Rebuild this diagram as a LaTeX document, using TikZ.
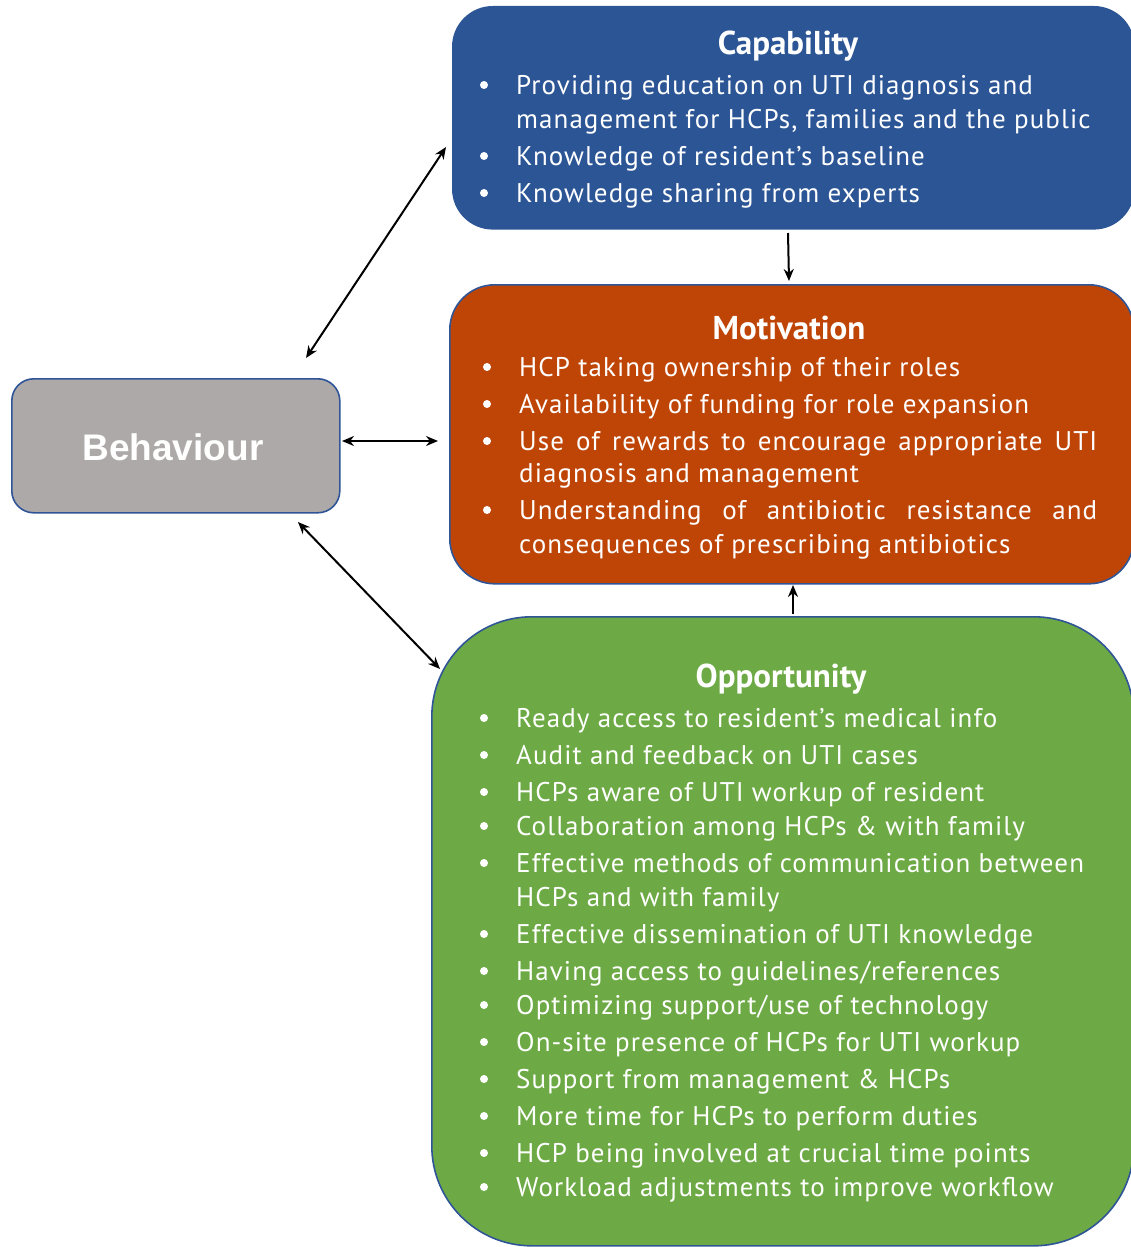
\documentclass[tikz,border=0pt]{standalone}
\usepackage{fontspec}
\setmainfont{PT Sans}[LetterSpace=4]
\newfontfamily\behavefont{Liberation Sans}
\newfontfamily\headfont{PT Sans}
\usetikzlibrary{arrows.meta}
\definecolor{capblue}{HTML}{2C5595}
\definecolor{motorange}{HTML}{BF4507}
\definecolor{oppgreen}{HTML}{6DAA45}
\definecolor{behgray}{HTML}{ADA9A9}
\definecolor{edgeblue}{HTML}{2F5597}
\tikzset{
  box/.style={draw=edgeblue, line width=1.6pt, inner sep=0pt, anchor=north west},
  ttl/.style={text=white, font=\headfont\fontsize{33}{36}\selectfont\bfseries, inner sep=0pt},
  itm/.style={text=white, font=\fontsize{27}{34}\selectfont, inner sep=0pt, anchor=base west},
  dot/.style={circle, fill=white, inner sep=0pt, minimum size=8pt},
  tip/.style={Stealth[length=12pt,width=10pt]},
  link/.style={line width=2pt, {Stealth[length=12pt,width=10pt]}-{Stealth[length=12pt,width=10pt]}},
  onelink/.style={line width=2pt, -{Stealth[length=12pt,width=10pt]}}
}
\begin{document}
\begin{tikzpicture}[x=1pt, y=-1pt]
\useasboundingbox (0,0) rectangle (1131,1247);
\begin{scope}
\clip (0,0) rectangle (1131,1247);
% boxes
\node[box, fill=capblue, draw=capblue, rounded corners=40pt, minimum width=681pt, minimum height=222pt] (cap) at (452,6) {};
\node[box, fill=motorange, rounded corners=45pt, minimum width=684pt, minimum height=299pt] (mot) at (449,284) {};
\node[box, fill=oppgreen, rounded corners=100pt, minimum width=702pt, minimum height=629pt] (opp) at (431,616) {};
\node[box, fill=behgray, rounded corners=22pt, minimum width=328pt, minimum height=134pt] (beh) at (11,378) {};
\end{scope}
\node[text=white, font=\behavefont\fontsize{37}{40}\selectfont\bfseries, inner sep=0pt] (behlbl) at (173,447) {Behaviour};

% Capability
\node[ttl] (capt) at (788,46) {Capability};
\node[dot] (cb1) at (484,85) {};
\node[itm] (c1) at (516,94) {Providing education on UTI diagnosis and};
\node[itm] (c1b) at (516,128) {management for HCPs, families and the public};
\node[dot] (cb2) at (484,156) {};
\node[itm] (c2) at (516,165) {Knowledge of resident’s baseline};
\node[dot] (cb3) at (484,193) {};
\node[itm] (c3) at (516,202) {Knowledge sharing from experts};

% Motivation
\node[ttl] (mott) at (789,328) {Motivation};
\node[dot] (mb1) at (487,367) {};
\node[itm] (m1) at (519,376) {HCP taking ownership of their roles};
\node[dot] (mb2) at (487,404) {};
\node[itm] (m2) at (519,413) {Availability of funding for role expansion};
\node[dot] (mb3) at (487,441) {};
\node[itm] (m3) at (519,450) {\makebox[578pt][s]{Use of rewards to encourage appropriate UTI}};
\node[itm] (m3b) at (519,482) {diagnosis and management};
\node[dot] (mb4) at (487,510) {};
\node[itm] (m4) at (519,519) {\makebox[578pt][s]{Understanding of antibiotic resistance and}};
\node[itm] (m4b) at (519,553) {consequences of prescribing antibiotics};

% Opportunity
\node[ttl] (oppt) at (781,679) {Opportunity};
\foreach \n/\yy/\txt in {
  1/718/{Ready access to resident’s medical info},
  2/755/{Audit and feedback on UTI cases},
  3/792/{HCPs aware of UTI workup of resident},
  4/826/{Collaboration among HCPs \& with family},
  5/863/{Effective methods of communication between},
  6/934/{Effective dissemination of UTI knowledge},
  7/971/{Having access to guidelines/references},
  8/1005/{Optimizing support/use of technology},
  9/1042/{On-site presence of HCPs for UTI workup},
  10/1079/{Support from management \& HCPs},
  11/1116/{More time for HCPs to perform duties},
  12/1153/{HCP being involved at crucial time points},
  13/1187/{Workload adjustments to improve workflow}}{
  \node[dot] (ob\n) at (484,\yy) {};
  \node[itm] (o\n) at (516,\yy+9) {\txt};
}
\node[itm] (o5b) at (516,906) {HCPs and with family};

% connector end points, just off the box edges
\coordinate (behN) at (306,358);
\coordinate (capW) at (446,147);
\coordinate (behE) at (342,441);
\coordinate (motW) at (438,441);
\coordinate (behS) at (298,522);
\coordinate (oppW) at (440,669);
\coordinate (capS) at (788,233);
\coordinate (motN) at (789,281);
\coordinate (oppN) at (793,614);
\coordinate (motS) at (793,585);

\draw[link] (behN) -- (capW);
\draw[link] (behE) -- (motW);
\draw[link] (behS) -- (oppW);
\draw[onelink] (capS) -- (motN);
\draw[onelink] (oppN) -- (motS);
\end{tikzpicture}
\end{document}
